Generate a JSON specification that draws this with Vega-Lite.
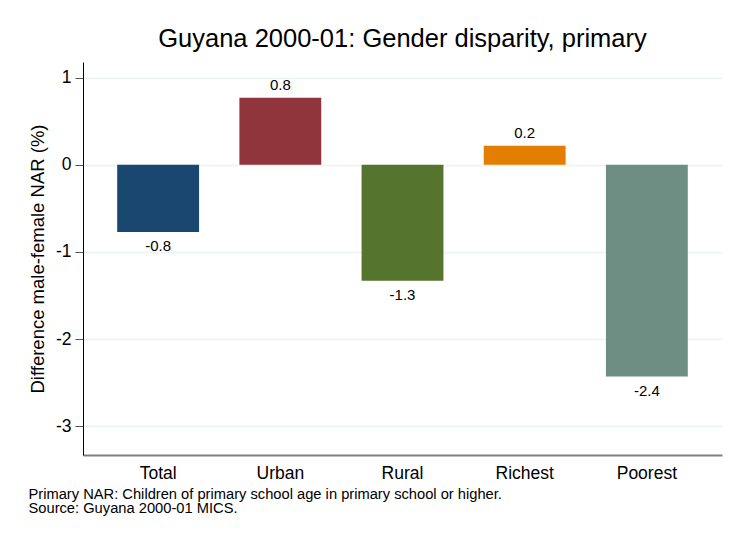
{
  "$schema": "https://vega.github.io/schema/vega-lite/v6.json",
  "width": 639,
  "height": 393,
  "autosize": {"type": "none"},
  "padding": {"left": 83, "top": 62, "right": 8, "bottom": 81},
  "background": "white",
  "config": {"font": "Liberation Sans", "view": {"stroke": null}},
  "title": {"text": "Guyana 2000-01: Gender disparity, primary", "fontSize": 25.5, "fontWeight": "normal", "font": "Liberation Sans", "color": "#000000", "anchor": "middle", "offset": 10},
  "data": {"values": [
    {"group": "Total", "value": -0.77, "label": "-0.8"},
    {"group": "Urban", "value": 0.77, "label": "0.8"},
    {"group": "Rural", "value": -1.33, "label": "-1.3"},
    {"group": "Richest", "value": 0.22, "label": "0.2"},
    {"group": "Poorest", "value": -2.43, "label": "-2.4"}
  ]},
  "encoding": {
    "x": {"field": "group", "type": "nominal", "sort": null,
      "scale": {"paddingInner": 0.33, "paddingOuter": 0.28},
      "axis": {"title": ["Primary NAR: Children of primary school age in primary school or higher.", "Source: Guyana 2000-01 MICS."],
        "titleAnchor": "start", "titleAlign": "left", "titleX": -55, "titleY": 31, "titleBaseline": "top",
        "titleFontSize": 14.7, "titleFontWeight": "normal", "titleColor": "#000000", "titleLineHeight": 14.5,
        "labelAngle": 0, "labelFontSize": 17.5, "labelColor": "#000000", "labelPadding": 9,
        "ticks": false, "domainColor": "#808080", "domainWidth": 2, "grid": false}},
    "y": {"field": "value", "type": "quantitative",
      "scale": {"domain": [-3.33, 1.18], "nice": false, "zero": false},
      "axis": {"title": "Difference male-female NAR (%)", "titleFontSize": 18.5, "titleFontWeight": "normal", "titleColor": "#000000", "titlePadding": 8,
        "values": [-3, -2, -1, 0, 1], "labelExpr": "datum.value < 0 ? '-' + abs(datum.value) : '' + datum.value",
        "labelFontSize": 17.5, "labelColor": "#000000", "labelPadding": 4,
        "tickSize": 8, "tickColor": "#555555", "domainColor": "#000000", "domainWidth": 1,
        "grid": true, "gridColor": "#eaf2f3", "gridWidth": 1.5}}
  },
  "layer": [
    {"mark": {"type": "bar"},
     "encoding": {"y2": {"datum": 0},
       "color": {"field": "group", "type": "nominal", "legend": null,
         "scale": {"domain": ["Total", "Urban", "Rural", "Richest", "Poorest"], "range": ["#1a476f", "#90353b", "#55752f", "#e37e00", "#6e8e84"]}}}},
    {"transform": [{"filter": "datum.value >= 0"}],
     "mark": {"type": "text", "baseline": "middle", "dy": -13, "fontSize": 15, "color": "#000000"},
     "encoding": {"text": {"field": "label", "type": "nominal"}}},
    {"transform": [{"filter": "datum.value < 0"}],
     "mark": {"type": "text", "baseline": "middle", "dy": 14, "fontSize": 15, "color": "#000000"},
     "encoding": {"text": {"field": "label", "type": "nominal"}}}
  ]
}
